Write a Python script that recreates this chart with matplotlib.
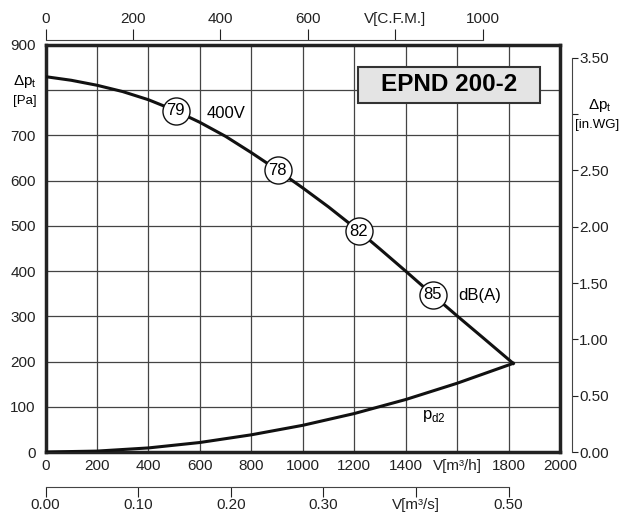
import numpy as np
import matplotlib.pyplot as plt

plt.rcParams['font.family'] = ['Liberation Sans', 'DejaVu Sans']

# fan curve EPND 200-2, 400V
flow_m3h = [0, 100, 200, 300, 400, 500, 600, 700, 800, 900, 1000,
            1100, 1200, 1300, 1400, 1500, 1600, 1700, 1818]
dp_pa = [830, 822, 811, 797, 779, 756, 729, 698, 662, 624, 584,
         542, 497, 449, 400, 350, 301, 253, 196]

# dynamic pressure curve
pd2_flow = [0, 200, 400, 600, 800, 1000, 1200, 1400, 1600, 1818]
pd2_pa = [0, 2, 9, 21, 38, 59, 85, 116, 152, 196]

# sound level markers on the curve
db_labels = ['79', '78', '82', '85']
db_flow = [506, 902, 1218, 1505]

x_ticks = [0, 200, 400, 600, 800, 1000, 1200, 1400, 1600, 1800, 2000]
x_ticklabels = ['0', '200', '400', '600', '800', '1000', '1200', '1400',
                'V[m³/h]', '1800', '2000']
y_ticks = [0, 100, 200, 300, 400, 500, 600, 700, 800, 900]
y_ticklabels = ['0', '100', '200', '300', '400', '500', '600', '700', '', '900']

cfm_ticks = [0, 200, 400, 600, 800, 1000]
cfm_ticklabels = ['0', '200', '400', '600', 'V[C.F.M.]', '1000']
m3s_ticks = [0.0, 0.1, 0.2, 0.3, 0.4, 0.5]
m3s_ticklabels = ['0.00', '0.10', '0.20', '0.30', 'V[m³/s]', '0.50']
inwg_ticks = [0.0, 0.5, 1.0, 1.5, 2.0, 2.5, 3.0, 3.5]
inwg_ticklabels = ['0.00', '0.50', '1.00', '1.50', '2.00', '2.50', '', '3.50']

W, H = 619, 515
fig = plt.figure(figsize=(W / 100, H / 100), dpi=100)
L, B = 45.5 / W, (H - 452) / H
AW, AH = (560 - 45.5) / W, 407 / H

ax = fig.add_axes([L, B, AW, AH])
ax.set_xlim(0, 2000)
ax.set_ylim(0, 900)
ax.set_xticks(x_ticks)
ax.set_xticklabels(x_ticklabels)
ax.set_yticks(y_ticks)
ax.set_yticklabels(y_ticklabels)
ax.tick_params(length=0, labelsize=11, colors='#222222')
ax.tick_params(axis='x', pad=5)
ax.tick_params(axis='y', pad=7)
ax.grid(True, color='#444444', lw=0.9)
for s in ax.spines.values():
    s.set_linewidth(2.5)
    s.set_color('#222222')

ax.plot(flow_m3h, dp_pa, color='#111111', lw=2.2, zorder=3)
ax.plot(pd2_flow, pd2_pa, color='#111111', lw=2.2, zorder=3)

db_pa = np.interp(db_flow, flow_m3h, dp_pa)
ax.scatter(db_flow, db_pa, s=380, facecolor='white', edgecolor='#111111',
           lw=1, zorder=4)
for lab, fx, fy in zip(db_labels, db_flow, db_pa):
    ax.text(fx, fy, lab, ha='center', va='center', fontsize=12, zorder=5)

ax.text(628, 749, '400V', ha='left', va='center', fontsize=12)
ax.text(1603, 345, 'dB(A)', ha='left', va='center', fontsize=12)
ax.text(1463, 80, 'p$_\\mathregular{d2}$', ha='left', va='center', fontsize=12)

# title box
ax.add_patch(plt.Rectangle((0.607, 0.8575), 0.354, 0.0885, transform=ax.transAxes,
                           facecolor='#e4e4e4', edgecolor='#333333', lw=1.5, zorder=5))
ax.text(0.784, 0.902, 'EPND 200-2', transform=ax.transAxes, ha='center',
        va='center', fontsize=17.5, fontweight='bold', zorder=6)

# left axis title
fig.text(37 / W, 1 - 82 / H, 'Δp$_\\mathregular{t}$', ha='right', va='center', fontsize=11)
fig.text(37 / W, 1 - 101 / H, '[Pa]', ha='right', va='center', fontsize=9.5)

# top axis, C.F.M.
ax_t = fig.add_axes([L, (H - 40) / H, AW, 0.0001])
ax_t.set_xlim(0, 2000 / 1.699)
ax_t.set_ylim(0, 1)
for k in ['left', 'right', 'bottom']:
    ax_t.spines[k].set_visible(False)
ax_t.spines['top'].set_bounds(0, 1000)
ax_t.spines['top'].set_color('#444444')
ax_t.set_yticks([])
ax_t.xaxis.tick_top()
ax_t.set_xticks(cfm_ticks)
ax_t.set_xticklabels(cfm_ticklabels)
ax_t.tick_params(axis='x', direction='out', length=8, labelsize=11, pad=2,
                 colors='#222222')
ax_t.patch.set_visible(False)

# bottom axis, m3/s
ax_b = fig.add_axes([L, (H - 487) / H, AW, 0.0001])
ax_b.set_xlim(0, 2000 / 3600)
ax_b.set_ylim(0, 1)
for k in ['left', 'right', 'top']:
    ax_b.spines[k].set_visible(False)
ax_b.spines['bottom'].set_bounds(0, 0.5)
ax_b.spines['bottom'].set_color('#444444')
ax_b.set_yticks([])
ax_b.set_xticks(m3s_ticks)
ax_b.set_xticklabels(m3s_ticklabels)
ax_b.tick_params(axis='x', direction='out', length=7, labelsize=11, pad=1,
                 colors='#222222')
ax_b.patch.set_visible(False)

# right axis, in.WG
ax_r = fig.add_axes([572 / W, B, 0.0001, AH])
ax_r.set_ylim(0, 900 / 249.09)
ax_r.set_xlim(0, 1)
for k in ['left', 'top', 'bottom']:
    ax_r.spines[k].set_visible(False)
ax_r.spines['right'].set_bounds(0, 3.5)
ax_r.spines['right'].set_color('#444444')
ax_r.set_xticks([])
ax_r.yaxis.tick_right()
ax_r.set_yticks(inwg_ticks)
ax_r.set_yticklabels(inwg_ticklabels)
ax_r.tick_params(axis='y', direction='out', length=4, labelsize=11, pad=1,
                 colors='#222222')
ax_r.patch.set_visible(False)

fig.text(600 / W, 1 - 106 / H, 'Δp$_\\mathregular{t}$', ha='center', va='center', fontsize=11)
fig.text(597 / W, 1 - 125 / H, '[in.WG]', ha='center', va='center', fontsize=9.5)

fig.savefig('out.png', dpi=100)
